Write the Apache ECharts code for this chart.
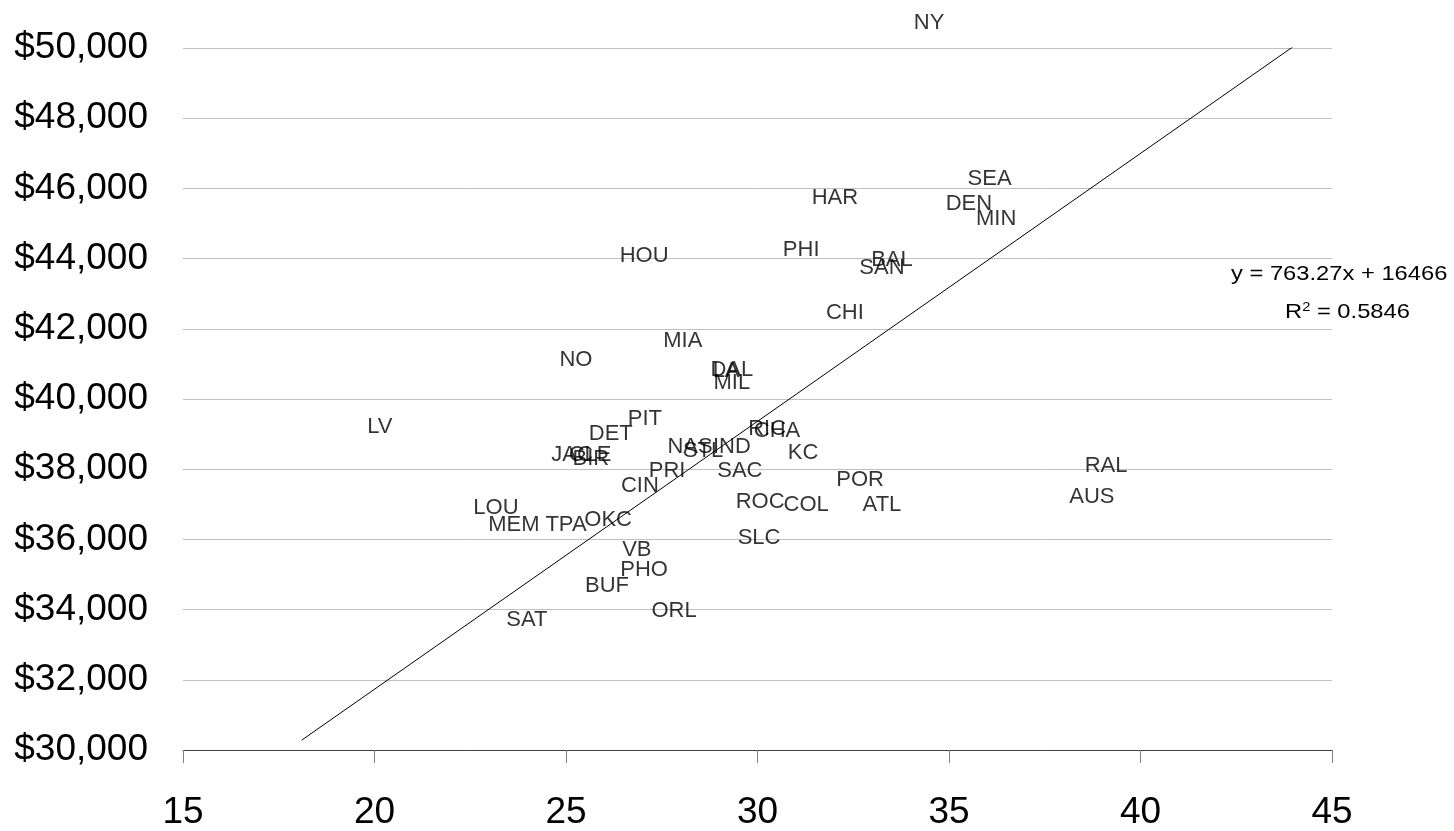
<!DOCTYPE html>
<html>
<head>
<meta charset="utf-8">
<script src="https://cdn.jsdelivr.net/npm/echarts@6/dist/echarts.min.js"></script>
<style>
html,body{margin:0;padding:0;background:#fff;}
#chart{width:1454px;height:831px;}
</style>
</head>
<body>
<div id="chart"></div>
<script>
const cities = ["NY","SEA","HAR","DEN","MIN","HOU","PHI","BAL","SAN","CHI","MIA","NO","DAL","LA","MIL","LV","PIT","DET","RIC","CHA","KC","NAS","STL","IND","JAC","CLE","BIR","PRI","SAC","CIN","POR","ROC","COL","ATL","RAL","AUS","LOU","MEM","TPA","OKC","SLC","VB","PHO","BUF","ORL","SAT"];
const xValues = [34.48,36.06,32.02,35.52,36.23,27.04,31.14,33.51,33.25,32.28,28.05,25.26,29.33,29.18,29.33,20.14,27.06,26.17,30.25,30.51,31.19,28.24,28.58,29.33,25.16,25.63,25.65,27.64,29.54,26.93,32.68,30.07,31.27,33.25,39.10,38.73,23.17,23.64,25.00,26.10,30.04,26.85,27.04,26.07,27.82,23.98];
const yValues = [50788,46344,45809,45640,45218,44149,44346,44037,43812,42546,41730,41196,40914,40886,40549,39283,39508,39086,39227,39170,38552,38720,38608,38720,38495,38495,38369,38045,38045,37595,37792,37145,37061,37061,38186,37286,36990,36484,36484,36639,36132,35795,35204,34768,34051,33798];
const trendSlope = 763.27;
const trendIntercept = 16466;
const trendRange = [18.1, 45];
const rSquared = "0.5846";
const xTicks = {min: 15, max: 45, interval: 5};
const yTicks = {min: 30000, max: 50000, interval: 2000};

const FONT = "'Liberation Sans', Arial, sans-serif";
const pts = cities.map((c, i) => [xValues[i], yValues[i], c]);
const trend = trendRange.map(x => [x, trendSlope * x + trendIntercept]);

const chart = echarts.init(document.getElementById('chart'));
chart.setOption({
  animation: false,
  backgroundColor: '#fff',
  grid: {left: 183, right: 122, top: 48, bottom: 72},
  xAxis: {
    type: 'value', min: xTicks.min, max: xTicks.max, interval: xTicks.interval,
    axisLine: {show: true, lineStyle: {color: '#404040', width: 1}},
    axisTick: {show: true, length: 13, lineStyle: {color: '#808080', width: 1}},
    axisLabel: {color: '#000', fontFamily: FONT, fontSize: 37, margin: 44},
    splitLine: {show: false}
  },
  yAxis: {
    type: 'value', min: yTicks.min, max: yTicks.max, interval: yTicks.interval,
    axisLine: {show: false},
    axisTick: {show: false},
    axisLabel: {color: '#000', fontFamily: FONT, fontSize: 37, margin: 35,
      formatter: v => '$' + v.toLocaleString('en-US')},
    splitLine: {show: true, lineStyle: {color: '#c0c0c0', width: 1}}
  },
  series: [
    {
      type: 'line',
      data: trend,
      symbol: 'none',
      lineStyle: {color: '#000', width: 1},
      clip: true,
      z: 1
    },
    {
      type: 'scatter',
      data: pts,
      symbolSize: 0,
      clip: false,
      itemStyle: {color: '#000'},
      label: {
        show: true, position: 'inside', offset: [0, 3],
        formatter: p => p.data[2],
        color: '#000', textBorderWidth: 0, fontFamily: FONT, fontSize: 22
      },
      z: 2
    }
  ],
  graphic: [
    {
      type: 'text', x: 1231, y: 264, scaleX: 1.13,
      style: {text: 'y = ' + trendSlope + 'x + ' + trendIntercept, fill: '#000', font: '21px ' + FONT}
    },
    {
      type: 'text', x: 1285, y: 301, scaleX: 1.13,
      style: {
        text: 'R{sup|2} = ' + rSquared,
        rich: {sup: {fontSize: 13, verticalAlign: 'top', padding: [0,0,10,0], fontFamily: FONT, fill: '#000'}},
        fill: '#000', font: '21px ' + FONT
      }
    }
  ]
});
</script>
</body>
</html>
